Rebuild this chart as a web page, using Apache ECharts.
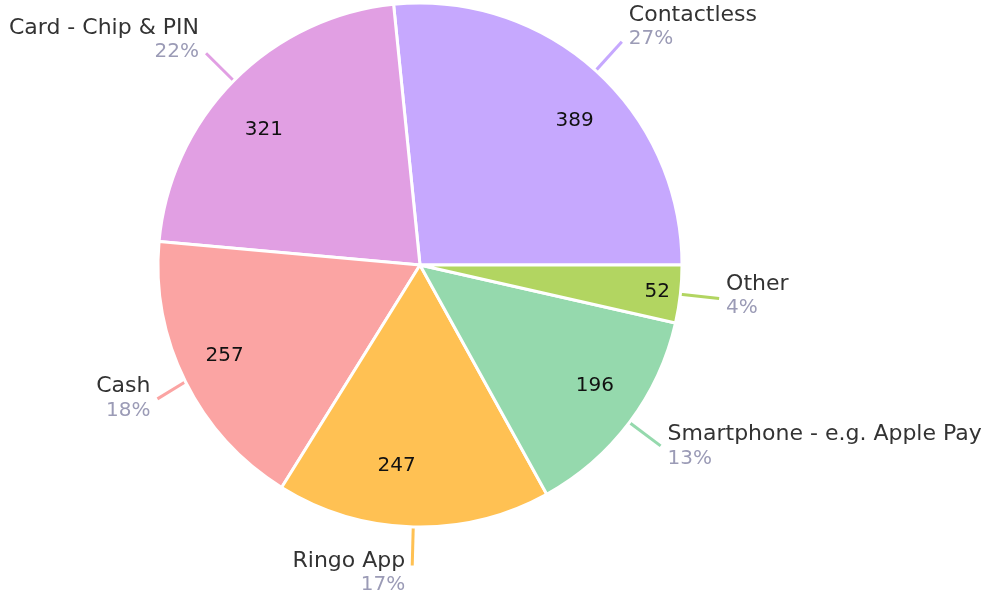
<!DOCTYPE html>
<html>
<head>
<meta charset="utf-8">
<style>
  html, body { margin: 0; padding: 0; background: #fff; }
  #chart { width: 983px; height: 596px; }
</style>
<script src="https://cdn.jsdelivr.net/npm/echarts@6/dist/echarts.min.js"></script>
</head>
<body>
<div id="chart"></div>
<script>
// payment methods, counter-clockwise from 3 o'clock
var categories = ['Contactless', 'Card - Chip & PIN', 'Cash', 'Ringo App', 'Smartphone - e.g. Apple Pay', 'Other'];
var counts = [389, 321, 257, 247, 196, 52];
var colors = ['#c6a8fe', '#e19fe3', '#fba4a3', '#ffc153', '#95d9ad', '#b2d561'];

var total = counts.reduce(function (a, b) { return a + b; }, 0);
var pct = counts.map(function (v) { return Math.round(v / total * 100); });

var dom = document.getElementById('chart');
var myChart = echarts.init(dom, null, { renderer: 'canvas' });

var FONT = 'DejaVu Sans';
var center = [420, 265];
var R = 262;

// outside labels sit a bit higher at the top, lower at the bottom
var outerPad = [[0, 0, 30, 0], [0, 0, 28, 0], [0, 0, 2, 0], [14, 0, 0, 0], [0, 0, 0, 0], [0, 0, 6, 0]];

var mainData = categories.map(function (c, i) {
    return {
        name: c, value: counts[i],
        itemStyle: { color: colors[i] },
        label: { padding: outerPad[i] },
        labelLine: { lineStyle: { color: colors[i] } }
    };
});

// value labels inside the slices (Other one sits closer to the rim)
function valueData(onlyOther) {
    return categories.map(function (c, i) {
        var show = onlyOther ? i === 5 : i !== 5;
        return { name: c, value: counts[i], label: { show: show } };
    });
}

var valueLabel = {
    position: 'inside',
    formatter: '{c}',
    color: '#111',
    fontSize: 20,
    fontFamily: FONT
};

var valueNudge = [[12, 14], [-5, 14], [-5, -4], [-18, -12], [5, -7], [0, 0]];

var option = {
    animation: false,
    series: [
        {
            type: 'pie',
            center: center,
            radius: R,
            startAngle: 0,
            clockwise: false,
            data: mainData,
            itemStyle: { borderColor: '#fff', borderWidth: 3 },
            label: {
                show: true,
                overflow: 'none',
                formatter: function (p) {
                    return '{n|' + p.name + '}\n{p|' + pct[p.dataIndex] + '%}';
                },
                distanceToLabelLine: 7,
                rich: {
                    n: { fontSize: 22, color: '#333', fontFamily: FONT, lineHeight: 25 },
                    p: { fontSize: 20, color: '#9b9bb6', fontFamily: FONT, lineHeight: 23 }
                }
            },
            labelLine: { show: true, length: 39, length2: 0, lineStyle: { width: 3 } }
        },
        {
            type: 'pie',
            center: center,
            radius: [R * 0.6, R],
            startAngle: 0,
            clockwise: false,
            silent: true,
            data: valueData(false),
            itemStyle: { color: 'rgba(0,0,0,0)' },
            label: valueLabel,
            labelLine: { show: false },
            labelLayout: function (p) {
                return { dx: valueNudge[p.dataIndex][0], dy: valueNudge[p.dataIndex][1] };
            }
        },
        {
            type: 'pie',
            center: center,
            radius: [R * 0.8, R],
            startAngle: 0,
            clockwise: false,
            silent: true,
            data: valueData(true),
            itemStyle: { color: 'rgba(0,0,0,0)' },
            label: valueLabel,
            labelLine: { show: false }
        }
    ]
};

myChart.setOption(option);
</script>
</body>
</html>
